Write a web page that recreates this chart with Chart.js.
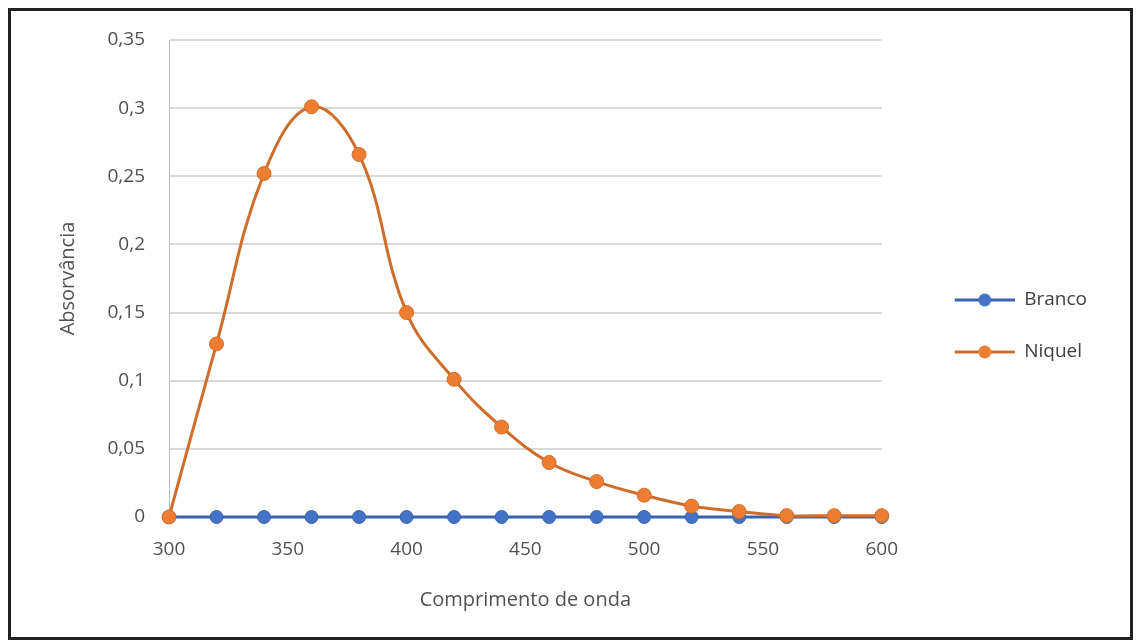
<!DOCTYPE html>
<html>
<head>
<meta charset="utf-8">
<script src="https://cdn.jsdelivr.net/npm/chart.js@4.4.1/dist/chart.umd.min.js"></script>
<style>
  html, body { margin: 0; padding: 0; background: #fff; }
  #wrap { position: relative; width: 1137px; height: 641px; }
  #frame { position: absolute; left: 8px; top: 8px; width: 1119px; height: 626px; border: 3px solid #222; pointer-events: none; }
  canvas { position: absolute; left: 0; top: 0; }
</style>
</head>
<body>
<div id="wrap">
  <canvas id="myChart" width="1137" height="641"></canvas>
  <div id="frame"></div>
</div>
<script>
// data
const wavelengths = [300, 320, 340, 360, 380, 400, 420, 440, 460, 480, 500, 520, 540, 560, 580, 600];
const branco = [0, 0, 0, 0, 0, 0, 0, 0, 0, 0, 0, 0, 0, 0, 0, 0];
const niquel = [0, 0.127, 0.252, 0.301, 0.266, 0.150, 0.101, 0.066, 0.040, 0.026, 0.016, 0.008, 0.004, 0.001, 0.001, 0.001];
const seriesNames = ['Branco', 'Niquel'];
const xTicks = [300, 350, 400, 450, 500, 550, 600];
const yTicks = [0, 0.05, 0.1, 0.15, 0.2, 0.25, 0.3, 0.35];

const blue = '#4472C4';
const orange = '#ED7D31';

// legend icon: line with a dot, with empty room on the left as a gap
function legendIcon(color, lineColor) {
    const c = document.createElement('canvas');
    c.width = 100; c.height = 16;
    const g = c.getContext('2d');
    g.strokeStyle = lineColor;
    g.lineWidth = 3;
    g.beginPath(); g.moveTo(40, 8); g.lineTo(100, 8); g.stroke();
    g.fillStyle = color;
    g.beginPath(); g.arc(70, 8, 6.5, 0, Math.PI * 2); g.fill();
    return c;
}

function toPoints(values) {
    return wavelengths.map((x, i) => ({x: x, y: values[i]}));
}

const fontFam = '"Open Sans", "Noto Sans", sans-serif';
const txt = '#505050';
const ctx = document.getElementById('myChart').getContext('2d');
new Chart(ctx, {
    type: 'line',
    data: {
        datasets: [{
            label: seriesNames[0],
            data: toPoints(branco),
            borderColor: '#3763AE',
            backgroundColor: blue,
            pointBackgroundColor: blue,
            pointBorderColor: '#3763AE',
            borderWidth: 3,
            pointRadius: 6.5,
            pointBorderWidth: 1,
            tension: 0,
            clip: false,
            order: 1
        }, {
            label: seriesNames[1],
            data: toPoints(niquel),
            borderColor: '#CF6E2C',
            backgroundColor: orange,
            pointBackgroundColor: orange,
            pointBorderColor: '#CF6E2C',
            borderWidth: 3,
            pointRadius: 7,
            pointBorderWidth: 1,
            tension: 0.4,
            clip: false,
            order: 0
        }]
    },
    options: {
        responsive: false,
        animation: false,
        layout: { padding: { top: 40, left: 54, right: 40, bottom: 29 } },
        plugins: {
            tooltip: { enabled: false },
            legend: {
                position: 'right',
                labels: {
                    usePointStyle: true,
                    pointStyleWidth: 100,
                    color: '#404040',
                    font: { family: fontFam, size: 19 },
                    padding: 33,
                    generateLabels: function(chart) {
                        return chart.data.datasets.map((ds, i) => ({
                            text: ds.label,
                            fillStyle: ds.backgroundColor,
                            strokeStyle: ds.borderColor,
                            pointStyle: legendIcon(ds.backgroundColor, ds.borderColor),
                            datasetIndex: i,
                            fontColor: '#404040',
                            hidden: false
                        }));
                    }
                }
            }
        },
        scales: {
            x: {
                type: 'linear',
                min: 300,
                max: 600,
                afterBuildTicks: axis => { axis.ticks = xTicks.map(v => ({value: v})); },
                afterFit: axis => { axis.height = 95; },
                grid: { display: false, drawTicks: false },
                border: { display: true, color: '#bfbfbf', width: 1 },
                ticks: { color: txt, font: { family: fontFam, size: 19 }, padding: 21 },
                title: { display: true, text: 'Comprimento de onda', color: txt, font: { family: fontFam, size: 20 }, padding: 0 }
            },
            y: {
                min: 0,
                max: 0.35,
                afterBuildTicks: axis => { axis.ticks = yTicks.map(v => ({value: v})); },
                afterFit: axis => { axis.width = 115; },
                grid: { color: '#d9d9d9', lineWidth: 2, drawTicks: false },
                border: { display: true, color: '#bfbfbf', width: 1 },
                ticks: {
                    color: txt,
                    font: { family: fontFam, size: 19 },
                    padding: 24,
                    callback: v => String(Math.round(v * 100) / 100).replace('.', ',')
                },
                title: { display: true, text: 'Absorvância', color: txt, font: { family: fontFam, size: 20 }, padding: { top: 2, bottom: 0 } }
            }
        }
    }
});
</script>
</body>
</html>
